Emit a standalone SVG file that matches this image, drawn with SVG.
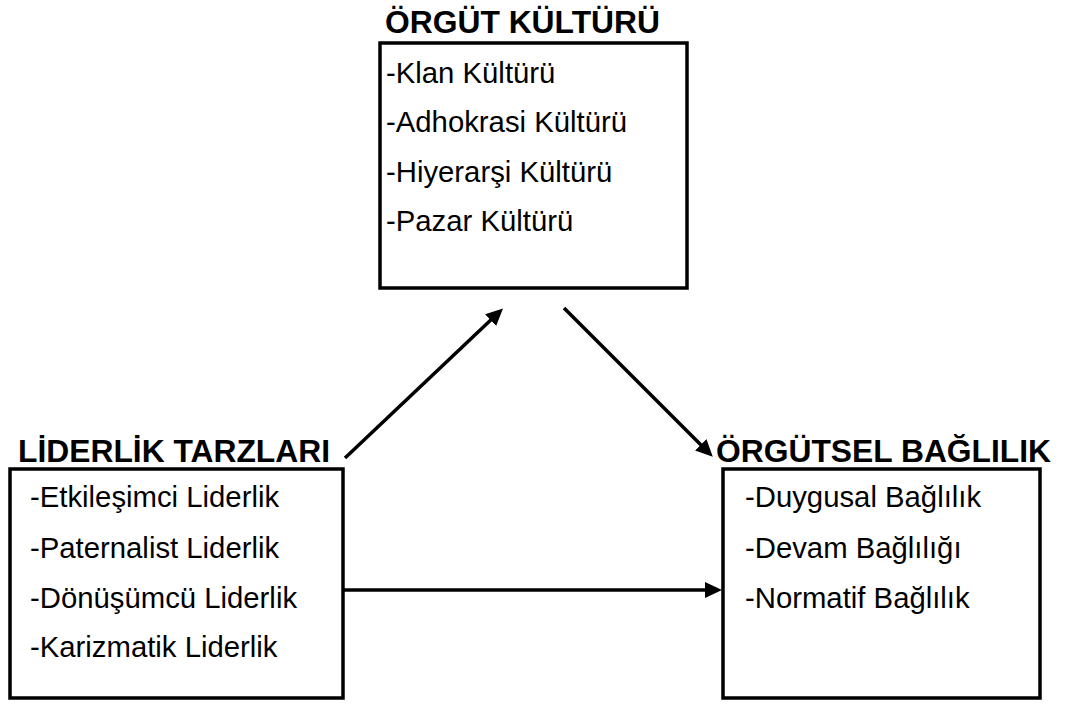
<svg xmlns="http://www.w3.org/2000/svg" width="1070" height="704" viewBox="0 0 1070 704">
  <style>
    .box { fill: #ffffff; stroke: #000000; stroke-width: 3.5; }
    .title { font-family: "Liberation Sans", Arial, sans-serif; font-weight: bold; font-size: 31.8px; fill: #000000; }
    .item { font-family: "Liberation Sans", Arial, sans-serif; font-size: 29.3px; fill: #000000; }
    .conn { stroke: #000000; stroke-width: 3.5; fill: none; }
  </style>
  <defs>
    <marker id="arrow" viewBox="0 0 17 16" refX="6" refY="8" markerWidth="17" markerHeight="16" markerUnits="userSpaceOnUse" orient="auto">
      <path d="M0,0 L17,8 L0,16 Z" fill="#000000"/>
    </marker>
  </defs>
  <rect x="0" y="0" width="1070" height="704" fill="#ffffff"/>

  <g id="orgut-kulturu">
    <text class="title" x="385" y="33">ÖRGÜT KÜLTÜRÜ</text>
    <rect class="box" x="380" y="43" width="307" height="245"/>
    <text class="item" x="386" y="83">-Klan Kültürü</text>
    <text class="item" x="386" y="132">-Adhokrasi Kültürü</text>
    <text class="item" x="386" y="182">-Hiyerarşi Kültürü</text>
    <text class="item" x="386" y="231">-Pazar Kültürü</text>
  </g>

  <g id="liderlik-tarzlari">
    <text class="title" x="18" y="462">LİDERLİK TARZLARI</text>
    <rect class="box" x="10" y="469" width="333" height="229"/>
    <text class="item" x="30" y="507">-Etkileşimci Liderlik</text>
    <text class="item" x="30" y="558">-Paternalist Liderlik</text>
    <text class="item" x="30" y="608">-Dönüşümcü Liderlik</text>
    <text class="item" x="30" y="657">-Karizmatik Liderlik</text>
  </g>

  <g id="orgutsel-baglilik">
    <text class="title" x="716" y="462">ÖRGÜTSEL BAĞLILIK</text>
    <rect class="box" x="723" y="469" width="317" height="229"/>
    <text class="item" x="745" y="507">-Duygusal Bağlılık</text>
    <text class="item" x="745" y="558">-Devam Bağlılığı</text>
    <text class="item" x="745" y="608">-Normatif Bağlılık</text>
  </g>

  <g id="connectors">
    <line class="conn" x1="345" y1="458" x2="495" y2="316" marker-end="url(#arrow)"/>
    <line class="conn" x1="564" y1="308" x2="705" y2="449" marker-end="url(#arrow)"/>
    <line class="conn" x1="343" y1="590" x2="711" y2="590" marker-end="url(#arrow)"/>
  </g>
</svg>
